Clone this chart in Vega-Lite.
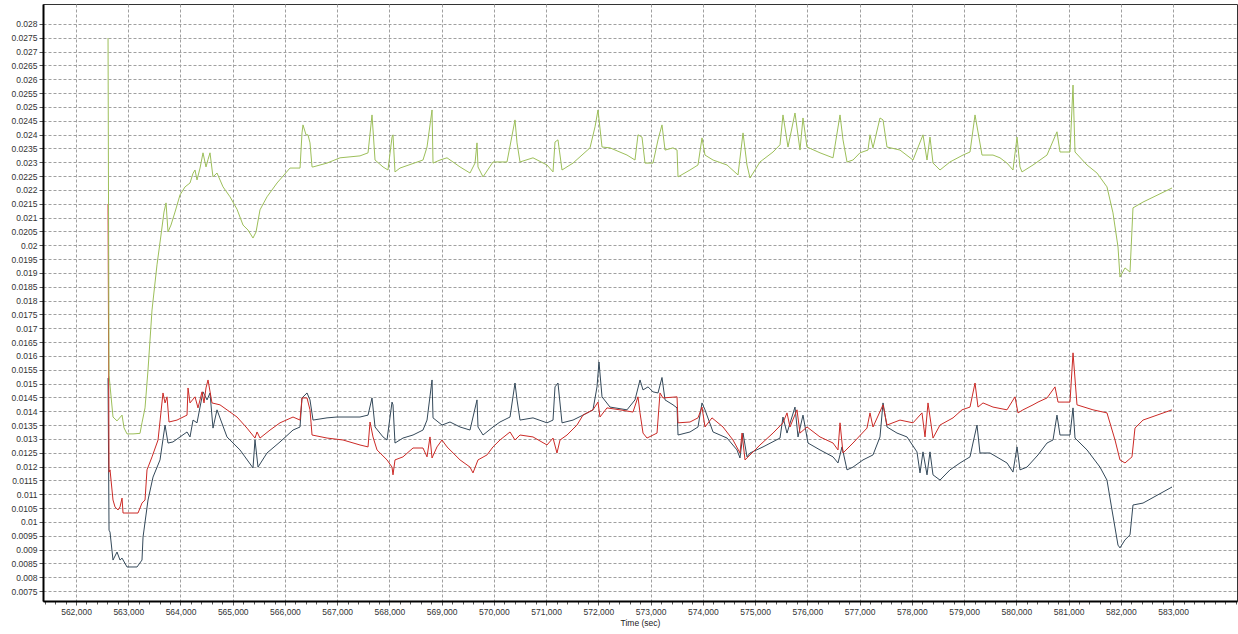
{
  "$schema": "https://vega.github.io/schema/vega-lite/v6.json",
  "width": 1194,
  "height": 597,
  "autosize": "none",
  "padding": {"left": 43, "top": 4, "right": 1, "bottom": 33},
  "background": "white",
  "config": {
    "view": {"stroke": "#333333", "strokeWidth": 1},
    "font": "Liberation Sans"
  },
  "datasets": {
    "dark": [
      {"t": 562613, "v": 0.0152}, {"t": 562632, "v": 0.0097}, {"t": 562651, "v": 0.00963}, {"t": 562708, "v": 0.00862},
      {"t": 562785, "v": 0.00891}, {"t": 562842, "v": 0.00862}, {"t": 562881, "v": 0.00869}, {"t": 562976, "v": 0.00837},
      {"t": 563168, "v": 0.00837}, {"t": 563263, "v": 0.00862}, {"t": 563283, "v": 0.00945}, {"t": 563378, "v": 0.01079},
      {"t": 563474, "v": 0.01162}, {"t": 563608, "v": 0.01224}, {"t": 563704, "v": 0.0135}, {"t": 563761, "v": 0.01285},
      {"t": 563857, "v": 0.01289}, {"t": 563991, "v": 0.01307}, {"t": 564125, "v": 0.01325}, {"t": 564182, "v": 0.01307},
      {"t": 564240, "v": 0.01368}, {"t": 564316, "v": 0.01358}, {"t": 564374, "v": 0.01415}, {"t": 564431, "v": 0.0147},
      {"t": 564508, "v": 0.01441}, {"t": 564565, "v": 0.01466}, {"t": 564622, "v": 0.01339}, {"t": 564699, "v": 0.01405},
      {"t": 564890, "v": 0.01307}, {"t": 565139, "v": 0.0126}, {"t": 565388, "v": 0.01195}, {"t": 565426, "v": 0.01296},
      {"t": 565484, "v": 0.01198}, {"t": 565656, "v": 0.01249}, {"t": 565905, "v": 0.01289}, {"t": 566154, "v": 0.01332},
      {"t": 566288, "v": 0.01343}, {"t": 566326, "v": 0.01448}, {"t": 566422, "v": 0.01466}, {"t": 566479, "v": 0.01441},
      {"t": 566537, "v": 0.01368}, {"t": 566805, "v": 0.01376}, {"t": 566996, "v": 0.01379}, {"t": 567436, "v": 0.01379},
      {"t": 567590, "v": 0.01386}, {"t": 567666, "v": 0.01448}, {"t": 567724, "v": 0.01343}, {"t": 567877, "v": 0.01307},
      {"t": 567953, "v": 0.01296}, {"t": 568049, "v": 0.01433}, {"t": 568068, "v": 0.01423}, {"t": 568106, "v": 0.01285},
      {"t": 568259, "v": 0.01303}, {"t": 568451, "v": 0.01314}, {"t": 568642, "v": 0.01332}, {"t": 568719, "v": 0.01368},
      {"t": 568815, "v": 0.01513}, {"t": 568834, "v": 0.01376}, {"t": 569006, "v": 0.0135}, {"t": 569159, "v": 0.01361},
      {"t": 569351, "v": 0.01343}, {"t": 569542, "v": 0.01332}, {"t": 569676, "v": 0.01441}, {"t": 569695, "v": 0.01343},
      {"t": 569791, "v": 0.01314}, {"t": 569982, "v": 0.01343}, {"t": 570116, "v": 0.01361}, {"t": 570308, "v": 0.01379},
      {"t": 570403, "v": 0.01502}, {"t": 570442, "v": 0.01441}, {"t": 570499, "v": 0.01368}, {"t": 570748, "v": 0.01376},
      {"t": 571016, "v": 0.01358}, {"t": 571131, "v": 0.01368}, {"t": 571169, "v": 0.01488}, {"t": 571226, "v": 0.01502},
      {"t": 571303, "v": 0.01358}, {"t": 571514, "v": 0.01368}, {"t": 571705, "v": 0.01386}, {"t": 571896, "v": 0.01405},
      {"t": 571973, "v": 0.01488}, {"t": 572011, "v": 0.01578}, {"t": 572069, "v": 0.01452}, {"t": 572222, "v": 0.01415},
      {"t": 572547, "v": 0.01405}, {"t": 572700, "v": 0.01441}, {"t": 572796, "v": 0.01513}, {"t": 572854, "v": 0.01477},
      {"t": 572949, "v": 0.01488}, {"t": 573045, "v": 0.0147}, {"t": 573141, "v": 0.01466}, {"t": 573217, "v": 0.01522},
      {"t": 573275, "v": 0.01441}, {"t": 573428, "v": 0.01423}, {"t": 573505, "v": 0.01412}, {"t": 573524, "v": 0.01314},
      {"t": 573753, "v": 0.01325}, {"t": 573906, "v": 0.01343}, {"t": 573983, "v": 0.0143}, {"t": 574040, "v": 0.01405},
      {"t": 574194, "v": 0.01325}, {"t": 574462, "v": 0.01303}, {"t": 574653, "v": 0.0126}, {"t": 574710, "v": 0.01231},
      {"t": 574768, "v": 0.01321}, {"t": 574844, "v": 0.01235}, {"t": 574902, "v": 0.01249}, {"t": 575151, "v": 0.01271},
      {"t": 575476, "v": 0.01303}, {"t": 575533, "v": 0.01379}, {"t": 575610, "v": 0.01321}, {"t": 575763, "v": 0.01415},
      {"t": 575821, "v": 0.01307}, {"t": 575916, "v": 0.01386}, {"t": 576012, "v": 0.01285}, {"t": 576242, "v": 0.0126},
      {"t": 576491, "v": 0.01235}, {"t": 576586, "v": 0.01213}, {"t": 576663, "v": 0.01271}, {"t": 576759, "v": 0.01188},
      {"t": 576873, "v": 0.01198}, {"t": 577065, "v": 0.01224}, {"t": 577256, "v": 0.01242}, {"t": 577390, "v": 0.01307},
      {"t": 577448, "v": 0.0143}, {"t": 577524, "v": 0.01343}, {"t": 577716, "v": 0.01321}, {"t": 577907, "v": 0.01307},
      {"t": 578098, "v": 0.01253}, {"t": 578156, "v": 0.01177}, {"t": 578213, "v": 0.01253}, {"t": 578290, "v": 0.0117},
      {"t": 578347, "v": 0.01253}, {"t": 578405, "v": 0.0117}, {"t": 578539, "v": 0.01151}, {"t": 578730, "v": 0.01188},
      {"t": 578922, "v": 0.01213}, {"t": 579113, "v": 0.01235}, {"t": 579170, "v": 0.01285}, {"t": 579247, "v": 0.0135},
      {"t": 579304, "v": 0.01249}, {"t": 579496, "v": 0.01249}, {"t": 579821, "v": 0.01213}, {"t": 579936, "v": 0.0118},
      {"t": 580013, "v": 0.01271}, {"t": 580070, "v": 0.01188}, {"t": 580204, "v": 0.01198}, {"t": 580415, "v": 0.01242},
      {"t": 580587, "v": 0.01285}, {"t": 580702, "v": 0.01296}, {"t": 580778, "v": 0.01386}, {"t": 580836, "v": 0.01314},
      {"t": 581027, "v": 0.01314}, {"t": 581085, "v": 0.01412}, {"t": 581123, "v": 0.01303}, {"t": 581353, "v": 0.0126},
      {"t": 581601, "v": 0.01198}, {"t": 581735, "v": 0.01151}, {"t": 581831, "v": 0.01043}, {"t": 581946, "v": 0.00916},
      {"t": 581984, "v": 0.00906}, {"t": 582080, "v": 0.00935}, {"t": 582176, "v": 0.00953}, {"t": 582233, "v": 0.01061},
      {"t": 582425, "v": 0.01068}, {"t": 582980, "v": 0.01126}
    ],
    "red": [
      {"t": 562613, "v": 0.02149}, {"t": 562632, "v": 0.0118}, {"t": 562651, "v": 0.01188}, {"t": 562708, "v": 0.01079},
      {"t": 562747, "v": 0.01054}, {"t": 562804, "v": 0.01043}, {"t": 562842, "v": 0.01054}, {"t": 562881, "v": 0.01086},
      {"t": 562900, "v": 0.01032}, {"t": 562976, "v": 0.01032}, {"t": 563187, "v": 0.01032}, {"t": 563263, "v": 0.01068},
      {"t": 563321, "v": 0.01079}, {"t": 563359, "v": 0.01188}, {"t": 563455, "v": 0.01235}, {"t": 563570, "v": 0.01296},
      {"t": 563665, "v": 0.01466}, {"t": 563704, "v": 0.0143}, {"t": 563742, "v": 0.01452}, {"t": 563780, "v": 0.01361},
      {"t": 563933, "v": 0.01368}, {"t": 564125, "v": 0.01386}, {"t": 564144, "v": 0.01484}, {"t": 564182, "v": 0.0143},
      {"t": 564278, "v": 0.01452}, {"t": 564335, "v": 0.01412}, {"t": 564412, "v": 0.0147}, {"t": 564450, "v": 0.0143},
      {"t": 564488, "v": 0.01484}, {"t": 564527, "v": 0.01513}, {"t": 564603, "v": 0.0143}, {"t": 564756, "v": 0.01423},
      {"t": 564890, "v": 0.01405}, {"t": 565082, "v": 0.01379}, {"t": 565273, "v": 0.01339}, {"t": 565426, "v": 0.01303},
      {"t": 565465, "v": 0.01325}, {"t": 565522, "v": 0.01303}, {"t": 565714, "v": 0.01332}, {"t": 565905, "v": 0.01358},
      {"t": 566154, "v": 0.01379}, {"t": 566288, "v": 0.01368}, {"t": 566326, "v": 0.01448}, {"t": 566422, "v": 0.01448},
      {"t": 566479, "v": 0.01405}, {"t": 566518, "v": 0.01314}, {"t": 566805, "v": 0.01303}, {"t": 567111, "v": 0.01296},
      {"t": 567436, "v": 0.01278}, {"t": 567590, "v": 0.01271}, {"t": 567628, "v": 0.01361}, {"t": 567685, "v": 0.01307},
      {"t": 567762, "v": 0.0126}, {"t": 567953, "v": 0.01224}, {"t": 568049, "v": 0.01198}, {"t": 568068, "v": 0.0117},
      {"t": 568106, "v": 0.01224}, {"t": 568259, "v": 0.01235}, {"t": 568451, "v": 0.01267}, {"t": 568642, "v": 0.01267},
      {"t": 568719, "v": 0.01235}, {"t": 568776, "v": 0.01307}, {"t": 568815, "v": 0.01231}, {"t": 568910, "v": 0.01271},
      {"t": 569006, "v": 0.01296}, {"t": 569102, "v": 0.01271}, {"t": 569351, "v": 0.01224}, {"t": 569542, "v": 0.01198},
      {"t": 569599, "v": 0.01177}, {"t": 569695, "v": 0.01224}, {"t": 569867, "v": 0.01242}, {"t": 569982, "v": 0.01271},
      {"t": 570116, "v": 0.01296}, {"t": 570308, "v": 0.01325}, {"t": 570403, "v": 0.01296}, {"t": 570499, "v": 0.01314},
      {"t": 570748, "v": 0.01307}, {"t": 571016, "v": 0.01278}, {"t": 571131, "v": 0.01303}, {"t": 571207, "v": 0.01249},
      {"t": 571265, "v": 0.01296}, {"t": 571399, "v": 0.01314}, {"t": 571590, "v": 0.0135}, {"t": 571705, "v": 0.01386},
      {"t": 571896, "v": 0.01405}, {"t": 571992, "v": 0.01433}, {"t": 572030, "v": 0.01379}, {"t": 572164, "v": 0.01412},
      {"t": 572413, "v": 0.01405}, {"t": 572662, "v": 0.01397}, {"t": 572758, "v": 0.01452}, {"t": 572796, "v": 0.01394},
      {"t": 572854, "v": 0.01321}, {"t": 572930, "v": 0.01303}, {"t": 573122, "v": 0.01321}, {"t": 573179, "v": 0.01466},
      {"t": 573236, "v": 0.01448}, {"t": 573505, "v": 0.01452}, {"t": 573524, "v": 0.01358}, {"t": 573753, "v": 0.01361},
      {"t": 573906, "v": 0.01376}, {"t": 573983, "v": 0.01415}, {"t": 574040, "v": 0.01343}, {"t": 574174, "v": 0.01376},
      {"t": 574385, "v": 0.01343}, {"t": 574576, "v": 0.01296}, {"t": 574710, "v": 0.01249}, {"t": 574749, "v": 0.01321},
      {"t": 574806, "v": 0.01224}, {"t": 574902, "v": 0.01242}, {"t": 575093, "v": 0.01278}, {"t": 575342, "v": 0.01321},
      {"t": 575533, "v": 0.01358}, {"t": 575610, "v": 0.01394}, {"t": 575667, "v": 0.01343}, {"t": 575801, "v": 0.01405},
      {"t": 575859, "v": 0.01321}, {"t": 575993, "v": 0.01343}, {"t": 576242, "v": 0.01307}, {"t": 576491, "v": 0.01285},
      {"t": 576586, "v": 0.0126}, {"t": 576625, "v": 0.01358}, {"t": 576682, "v": 0.01249}, {"t": 576873, "v": 0.01285},
      {"t": 577141, "v": 0.01339}, {"t": 577199, "v": 0.01394}, {"t": 577256, "v": 0.01343}, {"t": 577448, "v": 0.01423},
      {"t": 577524, "v": 0.0135}, {"t": 577773, "v": 0.01368}, {"t": 578022, "v": 0.01358}, {"t": 578194, "v": 0.01394},
      {"t": 578252, "v": 0.01307}, {"t": 578309, "v": 0.0143}, {"t": 578405, "v": 0.01303}, {"t": 578539, "v": 0.0135},
      {"t": 578788, "v": 0.01376}, {"t": 578960, "v": 0.01405}, {"t": 579113, "v": 0.01415}, {"t": 579209, "v": 0.01502},
      {"t": 579266, "v": 0.01415}, {"t": 579362, "v": 0.0143}, {"t": 579553, "v": 0.01415}, {"t": 579821, "v": 0.01405},
      {"t": 579974, "v": 0.01452}, {"t": 580032, "v": 0.01394}, {"t": 580128, "v": 0.01405}, {"t": 580319, "v": 0.01423},
      {"t": 580415, "v": 0.01433}, {"t": 580587, "v": 0.01448}, {"t": 580740, "v": 0.01488}, {"t": 580798, "v": 0.01433},
      {"t": 581027, "v": 0.01433}, {"t": 581085, "v": 0.01611}, {"t": 581161, "v": 0.01423}, {"t": 581467, "v": 0.01405},
      {"t": 581735, "v": 0.01394}, {"t": 581889, "v": 0.01296}, {"t": 581984, "v": 0.01224}, {"t": 582080, "v": 0.01213},
      {"t": 582214, "v": 0.01235}, {"t": 582271, "v": 0.01339}, {"t": 582425, "v": 0.01368}, {"t": 582980, "v": 0.01405}
    ],
    "green": [
      {"t": 562613, "v": 0.02749}, {"t": 562632, "v": 0.0153}, {"t": 562708, "v": 0.01379}, {"t": 562785, "v": 0.01365},
      {"t": 562881, "v": 0.01386}, {"t": 562919, "v": 0.0134}, {"t": 562976, "v": 0.01318}, {"t": 563091, "v": 0.01318},
      {"t": 563225, "v": 0.0132}, {"t": 563263, "v": 0.01358}, {"t": 563321, "v": 0.01412}, {"t": 563378, "v": 0.01549},
      {"t": 563455, "v": 0.01766}, {"t": 563550, "v": 0.01929}, {"t": 563627, "v": 0.02037}, {"t": 563684, "v": 0.0212},
      {"t": 563723, "v": 0.02153}, {"t": 563761, "v": 0.02048}, {"t": 563818, "v": 0.02073}, {"t": 563895, "v": 0.0212},
      {"t": 563991, "v": 0.02182}, {"t": 564087, "v": 0.02211}, {"t": 564182, "v": 0.02225}, {"t": 564240, "v": 0.0226},
      {"t": 564278, "v": 0.02272}, {"t": 564316, "v": 0.02236}, {"t": 564374, "v": 0.02279}, {"t": 564431, "v": 0.02334},
      {"t": 564488, "v": 0.02283}, {"t": 564527, "v": 0.0231}, {"t": 564565, "v": 0.02334}, {"t": 564622, "v": 0.02247},
      {"t": 564699, "v": 0.02261}, {"t": 564814, "v": 0.02211}, {"t": 564948, "v": 0.02175}, {"t": 565082, "v": 0.0213},
      {"t": 565197, "v": 0.02073}, {"t": 565292, "v": 0.02055}, {"t": 565388, "v": 0.02026}, {"t": 565446, "v": 0.02048},
      {"t": 565522, "v": 0.02128}, {"t": 565656, "v": 0.02175}, {"t": 565848, "v": 0.02225}, {"t": 566096, "v": 0.02279},
      {"t": 566288, "v": 0.02279}, {"t": 566326, "v": 0.02406}, {"t": 566345, "v": 0.02435}, {"t": 566403, "v": 0.02399},
      {"t": 566441, "v": 0.02399}, {"t": 566479, "v": 0.0237}, {"t": 566518, "v": 0.02283}, {"t": 566537, "v": 0.02283},
      {"t": 566805, "v": 0.02297}, {"t": 567054, "v": 0.02316}, {"t": 567436, "v": 0.02323}, {"t": 567590, "v": 0.02334},
      {"t": 567666, "v": 0.02471}, {"t": 567724, "v": 0.02308}, {"t": 567877, "v": 0.02283}, {"t": 567972, "v": 0.02272},
      {"t": 568049, "v": 0.02391}, {"t": 568068, "v": 0.02399}, {"t": 568106, "v": 0.02265}, {"t": 568202, "v": 0.02279},
      {"t": 568642, "v": 0.02308}, {"t": 568719, "v": 0.02355}, {"t": 568815, "v": 0.02489}, {"t": 568834, "v": 0.02297},
      {"t": 568968, "v": 0.02308}, {"t": 569102, "v": 0.02316}, {"t": 569351, "v": 0.02283}, {"t": 569542, "v": 0.02261},
      {"t": 569638, "v": 0.02297}, {"t": 569676, "v": 0.0237}, {"t": 569695, "v": 0.02283}, {"t": 569791, "v": 0.02247},
      {"t": 569982, "v": 0.02301}, {"t": 570250, "v": 0.02301}, {"t": 570403, "v": 0.02453}, {"t": 570442, "v": 0.0237},
      {"t": 570499, "v": 0.02301}, {"t": 570748, "v": 0.02316}, {"t": 571016, "v": 0.0229}, {"t": 571131, "v": 0.02265},
      {"t": 571169, "v": 0.02373}, {"t": 571226, "v": 0.02381}, {"t": 571303, "v": 0.02272}, {"t": 571514, "v": 0.02297},
      {"t": 571839, "v": 0.02352}, {"t": 571935, "v": 0.02428}, {"t": 571992, "v": 0.02489}, {"t": 572069, "v": 0.02355},
      {"t": 572222, "v": 0.02352}, {"t": 572547, "v": 0.02326}, {"t": 572700, "v": 0.02308}, {"t": 572758, "v": 0.02399},
      {"t": 572834, "v": 0.02391}, {"t": 572892, "v": 0.02297}, {"t": 573045, "v": 0.02297}, {"t": 573141, "v": 0.02381},
      {"t": 573217, "v": 0.02435}, {"t": 573275, "v": 0.02344}, {"t": 573428, "v": 0.02352}, {"t": 573505, "v": 0.02344},
      {"t": 573524, "v": 0.02247}, {"t": 573753, "v": 0.02272}, {"t": 573906, "v": 0.0229}, {"t": 573983, "v": 0.02388},
      {"t": 574040, "v": 0.02326}, {"t": 574194, "v": 0.02308}, {"t": 574462, "v": 0.0229}, {"t": 574672, "v": 0.02254},
      {"t": 574768, "v": 0.02406}, {"t": 574844, "v": 0.0229}, {"t": 574902, "v": 0.02243}, {"t": 575093, "v": 0.02301},
      {"t": 575342, "v": 0.02337}, {"t": 575476, "v": 0.02363}, {"t": 575533, "v": 0.02471}, {"t": 575629, "v": 0.02355},
      {"t": 575763, "v": 0.02478}, {"t": 575859, "v": 0.02344}, {"t": 575916, "v": 0.0246}, {"t": 575993, "v": 0.02355},
      {"t": 576242, "v": 0.02334}, {"t": 576491, "v": 0.02316}, {"t": 576625, "v": 0.02471}, {"t": 576682, "v": 0.02381},
      {"t": 576759, "v": 0.02301}, {"t": 576873, "v": 0.02308}, {"t": 577007, "v": 0.02334}, {"t": 577160, "v": 0.02344},
      {"t": 577199, "v": 0.02399}, {"t": 577256, "v": 0.02352}, {"t": 577390, "v": 0.0246}, {"t": 577448, "v": 0.02453},
      {"t": 577524, "v": 0.02355}, {"t": 577773, "v": 0.02344}, {"t": 578022, "v": 0.02308}, {"t": 578213, "v": 0.02399},
      {"t": 578290, "v": 0.02308}, {"t": 578347, "v": 0.02391}, {"t": 578405, "v": 0.02297}, {"t": 578539, "v": 0.02272},
      {"t": 578730, "v": 0.02301}, {"t": 578979, "v": 0.02326}, {"t": 579113, "v": 0.02337}, {"t": 579209, "v": 0.02471},
      {"t": 579343, "v": 0.02326}, {"t": 579553, "v": 0.02326}, {"t": 579687, "v": 0.02316}, {"t": 579821, "v": 0.02297},
      {"t": 579936, "v": 0.02272}, {"t": 580013, "v": 0.02391}, {"t": 580070, "v": 0.02283}, {"t": 580108, "v": 0.02265},
      {"t": 580319, "v": 0.0229}, {"t": 580587, "v": 0.02326}, {"t": 580778, "v": 0.0241}, {"t": 580836, "v": 0.02337},
      {"t": 581027, "v": 0.02337}, {"t": 581085, "v": 0.02579}, {"t": 581123, "v": 0.02337}, {"t": 581353, "v": 0.0229},
      {"t": 581544, "v": 0.02261}, {"t": 581735, "v": 0.02211}, {"t": 581850, "v": 0.02117}, {"t": 581946, "v": 0.01994},
      {"t": 581984, "v": 0.01885}, {"t": 582080, "v": 0.01918}, {"t": 582176, "v": 0.01903}, {"t": 582233, "v": 0.02135},
      {"t": 582425, "v": 0.02156}, {"t": 582980, "v": 0.02207}
    ]
  },
  "encoding": {
    "x": {
      "field": "t",
      "type": "quantitative",
      "scale": {"domain": [561368, 584224], "nice": false, "zero": false},
      "axis": {
        "title": "Time (sec)",
        "titleFontSize": 8.5,
        "titleFontWeight": "normal",
        "titleColor": "#222222",
        "titlePadding": 3,
        "tickCount": 115,
        "labelExpr": "datum.value % 1000 === 0 && datum.value <= 583000 ? format(datum.value, ',') : ''",
        "labelOverlap": false,
        "labelFlush": false,
        "labelFontSize": 8.5,
        "labelColor": "#333333",
        "labelPadding": 2,
        "tickColor": "#555555",
        "tickSize": {"condition": {"test": "datum.value % 1000 === 0 && datum.value <= 583000", "value": 4}, "value": 3},
        "domainColor": "#000000",
        "domainWidth": 2,
        "grid": true,
        "gridColor": "#a0a0a0",
        "gridDash": [3, 2],
        "gridOpacity": {"condition": {"test": "datum.value % 1000 === 0 && datum.value <= 583000", "value": 1}, "value": 0}
      }
    },
    "y": {
      "field": "v",
      "type": "quantitative",
      "scale": {"domain": [0.00714, 0.02872], "nice": false, "zero": false},
      "axis": {
        "title": null,
        "values": [0.0075, 0.008, 0.0085, 0.009, 0.0095, 0.01, 0.0105, 0.011, 0.0115, 0.012, 0.0125, 0.013, 0.0135, 0.014, 0.0145, 0.015, 0.0155, 0.016, 0.0165, 0.017, 0.0175, 0.018, 0.0185, 0.019, 0.0195, 0.02, 0.0205, 0.021, 0.0215, 0.022, 0.0225, 0.023, 0.0235, 0.024, 0.0245, 0.025, 0.0255, 0.026, 0.0265, 0.027, 0.0275, 0.028],
        "labelExpr": "format(datum.value, '.4~r')",
        "labelOverlap": false,
        "labelFontSize": 8.5,
        "labelColor": "#333333",
        "labelPadding": 2,
        "tickSize": 4,
        "tickColor": "#555555",
        "domainColor": "#000000",
        "domainWidth": 2,
        "grid": true,
        "gridColor": "#a0a0a0",
        "gridDash": [3, 2]
      }
    }
  },
  "layer": [
    {"data": {"name": "dark"}, "mark": {"type": "line", "color": "#34495a", "strokeWidth": 1, "interpolate": "linear"}},
    {"data": {"name": "red"}, "mark": {"type": "line", "color": "#cc2a26", "strokeWidth": 1, "interpolate": "linear"}},
    {"data": {"name": "green"}, "mark": {"type": "line", "color": "#9dbf5a", "strokeWidth": 1, "interpolate": "linear"}}
  ]
}
